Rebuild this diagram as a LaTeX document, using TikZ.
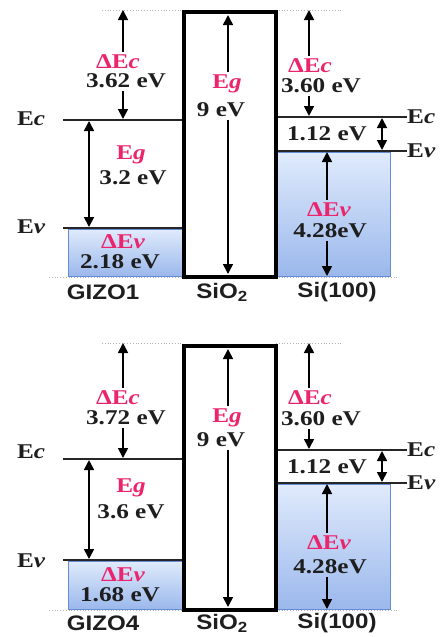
\documentclass[tikz,border=0pt]{standalone}
\usepackage{fontspec}
\setmainfont{Liberation Serif}
\newfontfamily\lserif[FakeStretch=1.2]{Liberation Serif}
\newfontfamily\lsans[FakeStretch=1.15]{Liberation Sans}
\usetikzlibrary{arrows.meta}
\definecolor{pinkc}{RGB}{236,36,108}
\definecolor{txt}{RGB}{30,30,30}
\definecolor{fillTop}{RGB}{224,235,252}
\definecolor{fillBot}{RGB}{155,184,236}
\definecolor{fillBd}{RGB}{100,140,215}
\tikzset{
 val/.style={font=\lserif\bfseries\fontsize{21}{21}\selectfont, text=txt, inner sep=3pt},
 sym/.style={font=\lserif\bfseries\fontsize{21}{21}\selectfont, text=pinkc, inner sep=1pt, outer sep=2pt},
 side/.style={font=\lserif\bfseries\fontsize{21}{21}\selectfont, text=txt, inner sep=1pt},
 mat/.style={font=\lsans\bfseries\fontsize{21}{21}\selectfont, text=txt, inner sep=1pt},
 level/.style={line width=1.8pt, draw=black!85},
 oxide/.style={line width=4pt, draw=black},
 guide/.style={draw=black!30, dotted, line width=0.8pt},
 arr/.style={line width=1.6pt, -{Triangle[length=10pt,width=10pt]}},
 darr/.style={line width=1.6pt, {Triangle[length=10pt,width=10pt]}-{Triangle[length=10pt,width=10pt]}},
 band/.style={top color=fillTop, bottom color=fillBot, draw=fillBd, line width=1pt},
}
\begin{document}
\begin{tikzpicture}[x=1pt,y=-1pt]
\useasboundingbox (0,0) rectangle (439,637);
%================ TOP PANEL =================
\draw[guide] (102,10) -- (183,10);
\draw[guide] (276,10) -- (342,10);
\draw[guide] (49,277) -- (183,277);
\draw[guide] (276,277) -- (397,277);
\path[band] (68,229) rectangle (182,276);
\path[band] (277,152) rectangle (390,276);
\draw[level] (63,120) -- (182,120);
\draw[level] (63,228) -- (182,228);
\draw[level] (277,117) -- (407,117);
\draw[level] (277,151) -- (407,151);
\draw[oxide] (184,12) rectangle (275.5,276.5);
% GIZO1
\node[side] (EcL1) at (31,119) {E{\itshape c}};
\node[side] (EvL1) at (31,227) {E{\itshape v}};
\node[sym] (dEc1) at (118,62) {ΔE{\itshape c}};
\node[val] (dEcv1) at (126,81) {3.62 eV};
\coordinate (dEcTop1) at (123,10);
\coordinate (dEcBot1) at (123,119);
\draw[arr] (dEcTop1 |- dEc1.north) -- (dEcTop1);
\draw[arr] (dEcBot1 |- dEcv1.south) -- (dEcBot1);
\coordinate (gA1) at (89,121);
\coordinate (gB1) at (89,227);
\draw[darr] (gA1) -- (gB1);
\node[sym] (Eg1) at (131,155) {E{\itshape g}};
\node[val] (Egv1) at (133,178) {3.2 eV};
\node[sym] (dEv1) at (123,242) {ΔE{\itshape v}};
\node[val] (dEvv1) at (120,262) {2.18 eV};
% SiO2
\node[sym] (Eox1) at (227,84) {E{\itshape g}};
\node[val] (Eoxv1) at (221,110) {9 eV};
\coordinate (oxTop1) at (228,15);
\coordinate (oxBot1) at (228,274);
\draw[arr] (oxTop1 |- Eox1.north) -- (oxTop1);
\draw[arr] (oxBot1 |- Eoxv1.south) -- (oxBot1);
% Si
\node[side, anchor=west] (EcR1) at (406,117) {E{\itshape c}};
\node[side, anchor=west] (EvR1) at (406,151) {E{\itshape v}};
\node[sym] (dEcS1) at (310,66) {ΔE{\itshape c}};
\node[val] (dEcSv1) at (321,86) {3.60 eV};
\coordinate (sTop1) at (309,10);
\coordinate (sBot1) at (309,116);
\draw[arr] (sTop1 |- dEcS1.north) -- (sTop1);
\draw[arr] (sBot1 |- dEcSv1.south) -- (sBot1);
\node[val] (siG1) at (327,134) {1.12 eV};
\coordinate (sgA1) at (382,118);
\coordinate (sgB1) at (382,150);
\draw[darr] (sgA1) -- (sgB1);
\node[sym] (dEvS1) at (329,210) {ΔE{\itshape v}};
\node[val] (dEvSv1) at (330,231) {4.28eV};
\coordinate (vTop1) at (327,152);
\coordinate (vBot1) at (327,276);
\draw[arr] (vTop1 |- dEvS1.north) -- (vTop1);
\draw[arr] (vBot1 |- dEvSv1.south) -- (vBot1);
% materials
\node[mat] (m11) at (103,292) {GIZO1};
\node[mat] (m12) at (222,292) {SiO\textsubscript{2}};
\node[mat] (m13) at (337,292) {Si(100)};
%================ BOTTOM PANEL =================
\draw[guide] (102,343) -- (183,343);
\draw[guide] (276,343) -- (342,343);
\draw[guide] (49,610) -- (183,610);
\draw[guide] (276,610) -- (397,610);
\path[band] (68,561) rectangle (182,609);
\path[band] (277,484) rectangle (390,609);
\draw[level] (63,459) -- (182,459);
\draw[level] (63,560) -- (182,560);
\draw[level] (277,450) -- (407,450);
\draw[level] (277,483) -- (407,483);
\draw[oxide] (184,346) rectangle (275.5,609.5);
% GIZO4
\node[side] (EcL2) at (31,452) {E{\itshape c}};
\node[side] (EvL2) at (31,561) {E{\itshape v}};
\node[sym] (dEc2) at (118,398) {ΔE{\itshape c}};
\node[val] (dEcv2) at (126,418) {3.72 eV};
\coordinate (dEcTop2) at (123,343);
\coordinate (dEcBot2) at (123,458);
\draw[arr] (dEcTop2 |- dEc2.north) -- (dEcTop2);
\draw[arr] (dEcBot2 |- dEcv2.south) -- (dEcBot2);
\coordinate (gA2) at (89,460);
\coordinate (gB2) at (89,559);
\draw[darr] (gA2) -- (gB2);
\node[sym] (Eg2) at (131,488) {E{\itshape g}};
\node[val] (Egv2) at (131,512) {3.6 eV};
\node[sym] (dEv2) at (123,575) {ΔE{\itshape v}};
\node[val] (dEvv2) at (120,595) {1.68 eV};
% SiO2
\node[sym] (Eox2) at (227,418) {E{\itshape g}};
\node[val] (Eoxv2) at (221,440) {9 eV};
\coordinate (oxTop2) at (228,349);
\coordinate (oxBot2) at (228,607);
\draw[arr] (oxTop2 |- Eox2.north) -- (oxTop2);
\draw[arr] (oxBot2 |- Eoxv2.south) -- (oxBot2);
% Si
\node[side, anchor=west] (EcR2) at (406,450) {E{\itshape c}};
\node[side, anchor=west] (EvR2) at (406,483) {E{\itshape v}};
\node[sym] (dEcS2) at (310,398) {ΔE{\itshape c}};
\node[val] (dEcSv2) at (321,419) {3.60 eV};
\coordinate (sTop2) at (309,343);
\coordinate (sBot2) at (309,449);
\draw[arr] (sTop2 |- dEcS2.north) -- (sTop2);
\draw[arr] (sBot2 |- dEcSv2.south) -- (sBot2);
\node[val] (siG2) at (327,467) {1.12 eV};
\coordinate (sgA2) at (382,451);
\coordinate (sgB2) at (382,482);
\draw[darr] (sgA2) -- (sgB2);
\node[sym] (dEvS2) at (329,543) {ΔE{\itshape v}};
\node[val] (dEvSv2) at (330,567) {4.28eV};
\coordinate (vTop2) at (327,484);
\coordinate (vBot2) at (327,609);
\draw[arr] (vTop2 |- dEvS2.north) -- (vTop2);
\draw[arr] (vBot2 |- dEvSv2.south) -- (vBot2);
% materials
\node[mat] (m21) at (103,623) {GIZO4};
\node[mat] (m22) at (222,623) {SiO\textsubscript{2}};
\node[mat] (m23) at (337,623) {Si(100)};
\end{tikzpicture}
\end{document}
